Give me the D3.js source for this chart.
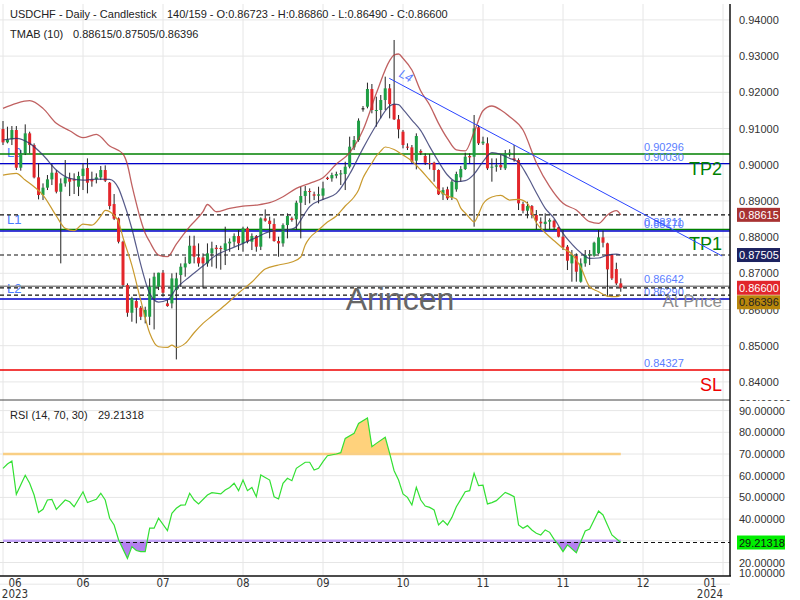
<!DOCTYPE html>
<html><head><meta charset="utf-8">
<script src="https://cdn.jsdelivr.net/npm/d3@7/dist/d3.min.js"></script>
<style>body{margin:0;background:#fff}svg{display:block;font-family:"Liberation Sans",Arial,sans-serif}</style>
</head><body><svg id="c" width="800" height="600"></svg>
<script>
// ---------- DATA ----------
const opens=[0.90985,0.90617,0.90700,0.90958,0.89917,0.90313,0.90866,0.90543,0.89650,0.89162,
0.89365,0.89595,0.89779,0.89254,0.89484,0.89622,0.89595,0.89392,0.89687,0.89908,
0.89595,0.89595,0.89650,0.89853,0.89503,0.88913,0.88517,0.87872,0.86675,0.85911,
0.86233,0.86049,0.85800,0.85800,0.86307,0.86629,0.87016,0.86169,0.86169,0.86537,
0.86952,0.87163,0.87274,0.87762,0.87439,0.87439,0.87274,0.87550,0.87707,0.87698,
0.87642,0.87827,0.87873,0.88029,0.87827,0.88241,0.87873,0.88029,0.87735,0.88517,
0.88453,0.88361,0.87891,0.87827,0.88333,0.88517,0.88490,0.88950,0.89135,0.89273,
0.89181,0.89144,0.89144,0.89641,0.89623,0.89696,0.89733,0.89742,0.89945,0.90479,
0.90682,0.91557,0.91603,0.92091,0.91483,0.91511,0.91787,0.92109,0.91676,0.91253,
0.90912,0.90498,0.90479,0.90111,0.90378,0.90240,0.90046,0.90056,0.89853,0.89181,
0.89319,0.89098,0.89319,0.89650,0.89881,0.90240,0.90221,0.91032,0.90590,0.90590,
0.89917,0.89945,0.89991,0.89899,0.90295,0.90175,0.90129,0.88914,0.88729,0.88858,
0.88610,0.88425,0.88361,0.88425,0.88453,0.88269,0.88011,0.87735,0.87274,0.87477,
0.86768,0.87274,0.87504,0.87486,0.87551,0.87993,0.87827,0.87504,0.87117,0.86723];
const highs=[0.91206,0.91050,0.91068,0.91068,0.90405,0.91114,0.90912,0.90589,0.90037,0.89484,
0.89715,0.90018,0.89853,0.89622,0.90129,0.89779,0.89761,0.89807,0.90037,0.90175,
0.89807,0.89761,0.89963,0.89982,0.89521,0.89190,0.88545,0.87900,0.86721,0.86353,
0.86307,0.86095,0.86077,0.86859,0.87016,0.87016,0.87090,0.86261,0.86998,0.87016,
0.87274,0.87458,0.88038,0.88038,0.87826,0.87550,0.87826,0.87873,0.87781,0.87760,
0.88287,0.87965,0.88103,0.88195,0.88287,0.88287,0.88103,0.88057,0.88545,0.88766,
0.88564,0.88517,0.88011,0.88379,0.88656,0.88564,0.89006,0.89392,0.89411,0.89346,
0.89255,0.89392,0.89531,0.89669,0.89779,0.89807,0.89853,0.90083,0.90774,0.90792,
0.91280,0.91621,0.92266,0.92229,0.91879,0.91925,0.92432,0.92229,0.93445,0.91373,
0.90958,0.90590,0.90544,0.90866,0.90424,0.90313,0.90295,0.90083,0.89871,0.89374,
0.89392,0.89577,0.89807,0.89963,0.90332,0.90313,0.91373,0.91096,0.90774,0.90755,
0.90175,0.90175,0.90267,0.90406,0.90424,0.90544,0.90175,0.88978,0.88978,0.88886,
0.88748,0.88545,0.88656,0.88518,0.88490,0.88287,0.88195,0.87781,0.87643,0.87551,
0.87412,0.87643,0.87643,0.87873,0.88195,0.88177,0.87845,0.87532,0.87293,0.86860];
const lows=[0.90543,0.90589,0.90543,0.89853,0.89835,0.90267,0.90313,0.89622,0.89042,0.89024,
0.89300,0.89438,0.89208,0.87274,0.89392,0.89134,0.89190,0.89134,0.89300,0.89208,
0.89392,0.89484,0.89576,0.89521,0.88766,0.88471,0.87826,0.86629,0.85800,0.85662,
0.85616,0.85708,0.85616,0.85570,0.85450,0.86537,0.86353,0.86077,0.86031,0.84621,
0.86629,0.86906,0.87255,0.87274,0.87182,0.86583,0.87182,0.87182,0.87136,0.87100,
0.87228,0.87596,0.87735,0.87642,0.87596,0.87827,0.87642,0.87596,0.87642,0.88425,
0.87965,0.87873,0.87458,0.87735,0.87965,0.88425,0.88195,0.87965,0.88886,0.88932,
0.89024,0.88932,0.89024,0.89577,0.89531,0.89623,0.89438,0.89300,0.89899,0.90405,
0.90636,0.91465,0.91557,0.91419,0.91050,0.91280,0.91511,0.91280,0.91234,0.90728,
0.90451,0.90405,0.90037,0.89871,0.90267,0.89991,0.89871,0.89531,0.89162,0.89024,
0.89024,0.89024,0.89254,0.89531,0.89853,0.90037,0.88287,0.90544,0.90544,0.89853,
0.89531,0.89807,0.89853,0.89853,0.90221,0.90083,0.88748,0.88656,0.88518,0.88518,
0.88214,0.88214,0.88195,0.88214,0.88195,0.87993,0.87643,0.87090,0.86768,0.86768,
0.86740,0.87182,0.87228,0.87458,0.87532,0.87716,0.86353,0.86814,0.86675,0.86490];
const closes=[0.90617,0.90700,0.90958,0.89917,0.90313,0.90866,0.90543,0.89650,0.89162,0.89365,
0.89595,0.89779,0.89254,0.89484,0.89650,0.89530,0.89558,0.89687,0.89890,0.89503,
0.89540,0.89650,0.89853,0.89558,0.88858,0.88508,0.87872,0.86675,0.85911,0.86307,
0.86049,0.85800,0.85985,0.86629,0.86906,0.87016,0.86463,0.86095,0.86859,0.86859,
0.87182,0.87274,0.87762,0.87458,0.87274,0.87274,0.87550,0.87689,0.87670,0.87680,
0.87827,0.87873,0.88029,0.87827,0.88241,0.87873,0.88029,0.87735,0.88517,0.88453,
0.88361,0.87891,0.87827,0.88333,0.88582,0.88471,0.88950,0.89135,0.89273,0.89245,
0.89144,0.89181,0.89346,0.89604,0.89715,0.89742,0.89761,0.89945,0.90498,0.90682,
0.91216,0.91557,0.92091,0.91511,0.91511,0.91787,0.92109,0.91676,0.91253,0.90976,
0.90544,0.90470,0.90083,0.90792,0.90332,0.90056,0.90037,0.89853,0.89181,0.89300,
0.89070,0.89531,0.89742,0.89881,0.90221,0.90203,0.91004,0.90590,0.90636,0.89899,
0.89945,0.89982,0.89927,0.90313,0.90332,0.90129,0.88932,0.88729,0.88858,0.88610,
0.88453,0.88379,0.88425,0.88471,0.88269,0.88011,0.87716,0.87348,0.87504,0.87044,
0.87274,0.87504,0.87532,0.87845,0.87993,0.87845,0.87108,0.86860,0.86721,0.86600];

// TMA bands (bar index / value readings)
const upperIdx=[0,3,6,9,12,15,18,21,24,27,28,29,30,31,32,33,35,37,39,42,45,46,48,51,54,57,60,63,66,69,72,75,78,81,84,87,88,89,90,92,94,96,98,100,102,104,106,108,110,112,114,117,120,123,126,129,132,134,136,138,139];
const upperVal=[0.91556,0.91695,0.91768,0.91556,0.91142,0.90939,0.90746,0.90838,0.90516,0.90295,0.90000,0.89438,0.88932,0.88471,0.88103,0.87872,0.87504,0.87458,0.87808,0.88287,0.88702,0.88900,0.88700,0.88794,0.88858,0.88886,0.88950,0.89116,0.89346,0.89485,0.89641,0.90019,0.90332,0.90958,0.91971,0.92874,0.93030,0.93058,0.92938,0.92616,0.92036,0.91650,0.91142,0.90720,0.90410,0.90380,0.90900,0.91492,0.91621,0.91511,0.91327,0.90958,0.90056,0.89392,0.88932,0.88748,0.88425,0.88379,0.88610,0.88729,0.88615];
const midIdx=[0,3,6,9,12,15,18,21,24,26,27,29,30,31,33,35,37,39,42,45,48,51,54,57,60,63,65,66,67,69,72,75,78,81,84,87,88,89,90,92,94,96,98,100,102,104,106,108,110,112,114,116,118,120,122,124,126,128,130,132,134,136,138,139];
const midVal=[0.90682,0.90728,0.90589,0.90267,0.89853,0.89622,0.89576,0.89604,0.89595,0.89346,0.89024,0.88230,0.87734,0.87240,0.86445,0.86205,0.86261,0.86583,0.86906,0.87200,0.87504,0.87670,0.87827,0.87992,0.88149,0.88195,0.88223,0.88287,0.88471,0.88840,0.89042,0.89208,0.89742,0.90451,0.91096,0.91621,0.91676,0.91658,0.91529,0.91234,0.90940,0.90498,0.90083,0.89715,0.89531,0.89558,0.89742,0.90083,0.90332,0.90286,0.90175,0.90065,0.89687,0.89227,0.88794,0.88518,0.88103,0.87808,0.87569,0.87413,0.87422,0.87504,0.87532,0.87505];
const lowIdx=[0,3,5,7,9,12,14,16,18,20,22,23,25,26,27,29,31,33,35,37,38,39,41,43,45,47,50,53,56,59,62,65,67,68,69,71,73,75,77,79,80,81,82,83,84,85,86,88,90,92,94,96,98,100,102,103,104,105,106,107,108,110,112,114,116,118,120,122,124,126,128,130,132,134,136,138,139];
const lowVal=[0.89714,0.89761,0.89576,0.89392,0.89162,0.88582,0.88241,0.88177,0.88361,0.88333,0.88580,0.88740,0.88600,0.88420,0.87990,0.87220,0.86250,0.85350,0.84971,0.84953,0.85018,0.84953,0.85064,0.85358,0.85616,0.85820,0.86124,0.86456,0.86760,0.87119,0.87230,0.87312,0.87450,0.87782,0.87975,0.88196,0.88417,0.88583,0.88859,0.89108,0.89301,0.89633,0.89854,0.90047,0.90240,0.90378,0.90489,0.90420,0.90268,0.90102,0.89854,0.89577,0.89301,0.89135,0.89050,0.88800,0.88666,0.88528,0.88417,0.88638,0.88914,0.89108,0.89150,0.89024,0.89042,0.88932,0.88398,0.88121,0.87900,0.87689,0.87532,0.87164,0.86629,0.86491,0.86371,0.86353,0.86396];

// RSI (14) readings
const rsiIdx=[0,1,2,3,5,6,7,8,9,10,11,12,14,15,16,18,19,21,22,23,24,25,26,28,29,30,31,32,33,34,35,37,38,39,40,41,42,43,44,46,47,49,50,51,52,53,54,55,56,57,58,60,61,62,63,64,65,66,68,69,70,71,72,73,75,76,77,79,80,82,83,84,86,87,88,89,90,91,92,93,94,95,96,97,98,99,100,101,102,103,104,105,106,107,108,109,110,111,113,114,115,116,117,118,119,120,121,122,123,124,125,126,127,129,130,131,132,134,135,136,137,139];
const rsiVal=[63.4,65.4,66.8,51.4,60.2,56.5,51.1,43.0,44.5,48.8,49.1,44.5,48.8,48.0,45.7,52.6,47.6,49.1,51.9,48.8,40.4,37.3,30.5,21.9,27.3,25.5,25.0,25.0,35.8,35.8,40.4,34.7,42.7,45.0,46.4,46.5,51.9,48.8,47.0,51.1,52.2,51.6,53.4,54.6,56.5,53.1,58.0,53.1,54.6,50.3,60.3,58.0,50.3,49.3,56.5,58.8,57.7,63.4,66.2,66.2,62.6,63.4,66.5,69.2,70.0,70.6,77.2,79.5,84.1,86.6,73.4,74.9,77.7,70.3,62.3,58.0,51.6,50.0,46.5,54.6,48.8,46.0,45.4,44.2,37.3,39.3,37.3,40.8,45.7,49.1,52.6,53.1,61.1,55.4,55.6,47.0,47.6,48.5,52.3,51.4,50.3,37.3,35.8,37.0,35.0,33.5,32.7,35.0,33.9,30.7,28.1,25.0,28.1,24.5,29.6,34.5,35.4,43.7,41.9,37.3,32.7,29.21318];
const rsiOB=70, rsiOS=30;

// Horizontal levels
const levelValues=[0.90296,0.90030,0.88211,0.88170,0.86642,0.86290,0.84327];
const levelKinds=["tp","line","tp","line","price","line","sl"];
const sideLabels=["TP2","TP1","At Price","SL"];
const sideLabelValues=[0.90296,0.88211,0.86642,0.84327];
const trendIdx=[86.9,161.8];
const trendVal=[0.92387,0.87478];

// Axes
const xTickIdx=[0,18,36,54,72,90,108,126,144,162];
const xTickMonth=["06","06","07","08","09","10","11","11","12","01"];
const xTickYear=["2023","","","","","","","","","2024"];
const priceTicks=[0.84,0.85,0.86,0.87,0.88,0.89,0.90,0.91,0.92,0.93,0.94];
const rsiTicks=[10,20,30,40,50,60,70,80,90,100];

// ---------- CHART ----------
const svg=d3.select("#c");
const plotR=730, mainT=4, mainB=400, rsiT=400, rsiB=576;
const x=d3.scaleLinear().domain([0,162]).range([3,723]);
const y=d3.scaleLinear().domain([0.84,0.94]).range([381.9,19.9]);
const ry=d3.scaleLinear().domain([0,100]).range([605.9,388.9]);
const fmt5=d3.format(".5f");

const defs=svg.append("defs");
function clip(id,x0,y0,w,h){defs.append("clipPath").attr("id",id).append("rect").attr("x",x0).attr("y",y0).attr("width",w).attr("height",h);}
clip("cm",0,mainT,plotR,mainB-mainT);
clip("cr",0,rsiT,plotR,rsiB-rsiT);
clip("cob",0,rsiT,plotR,ry(rsiOB)-rsiT);
clip("cos",0,ry(rsiOS),plotR,rsiB-ry(rsiOS));
clip("cax",plotR,rsiT,70,rsiB-rsiT+2);

// grid
const grid=svg.append("g").attr("stroke","#e6e6e6").attr("stroke-width",1);
grid.selectAll(".vg").data(xTickIdx).join("line").attr("x1",d=>x(d)).attr("x2",d=>x(d)).attr("y1",mainT).attr("y2",rsiB);
grid.selectAll(".hg").data(priceTicks).join("line").attr("clip-path","url(#cm)").attr("x1",0).attr("x2",plotR).attr("y1",d=>y(d)).attr("y2",d=>y(d));
grid.selectAll(".rg").data(rsiTicks.filter(t=>t<100)).join("line").attr("x1",0).attr("x2",plotR).attr("y1",d=>ry(d)).attr("y2",d=>ry(d));

// header
const lastU=upperVal[upperVal.length-1], lastM=midVal[midVal.length-1], lastL=lowVal[lowVal.length-1], lastC=closes[closes.length-1];
const nB=opens.length-1;
svg.append("text").attr("x",10).attr("y",18).attr("font-size",11).attr("fill","#222").text("USDCHF - Daily - Candlestick");
svg.append("text").attr("x",167).attr("y",18).attr("font-size",11).attr("fill","#222")
  .text(`${opens.length}/159 - O:${fmt5(opens[nB])} - H:${fmt5(highs[nB])} - L:${fmt5(lows[nB])} - C:${fmt5(closes[nB])}`);
svg.append("text").attr("x",10).attr("y",38).attr("font-size",11).attr("fill","#222").text("TMAB (10)");
svg.append("text").attr("x",73).attr("y",38).attr("font-size",11).attr("fill","#222").text(`${fmt5(lastU)}/${fmt5(lastM)}/${fmt5(lastL)}`);

const main=svg.append("g").attr("clip-path","url(#cm)");

// L labels
const lblBlue="#4a7bff";
main.append("text").attr("x",7).attr("y",y(levelValues[0])+3).attr("font-size",13).attr("fill",lblBlue).text("L0");
main.append("text").attr("x",7).attr("y",y(levelValues[2])-5).attr("font-size",13).attr("fill",lblBlue).text("L1");
main.append("text").attr("x",7).attr("y",y(levelValues[4])+7).attr("font-size",13).attr("fill",lblBlue).text("L2");

// level lines
const kindColor={tp:"#008000",line:"#0000cc",price:"#8a8a8a",sl:"#ee0000"};
main.selectAll(".lv").data(levelValues).join("line").attr("x1",0).attr("x2",plotR)
  .attr("y1",d=>y(d)).attr("y2",d=>y(d)).attr("stroke",(d,i)=>kindColor[levelKinds[i]]).attr("stroke-width",1.4);
main.selectAll(".lvt").data(levelValues).join("text").attr("x",644).attr("y",d=>y(d)-3)
  .attr("font-size",11).attr("fill","#5a7dff").text(d=>fmt5(d));
// dashed current-value lines
const dashVals=[lastU,lastM,lastC,lastL];
main.selectAll(".dl").data(dashVals).join("line").attr("x1",0).attr("x2",plotR)
  .attr("y1",d=>y(d)).attr("y2",d=>y(d)).attr("stroke","#111").attr("stroke-width",1.2).attr("stroke-dasharray","4,3");

// side labels
const sideColor=["#008000","#008000","#8c8c8c","#ee0000"];
main.selectAll(".sl").data(sideLabels).join("text").attr("x",722).attr("text-anchor","end")
  .attr("y",(d,i)=>y(sideLabelValues[i])+21).attr("font-size",(d,i)=>i==2?17:18)
  .attr("fill",(d,i)=>sideColor[i]).text(d=>d);

// watermark
main.append("text").attr("x",400).attr("y",310).attr("text-anchor","middle").attr("font-size",32).attr("fill","#666").text("Arincen");

// candles
const bars=d3.range(opens.length);
const cg=main.append("g");
cg.selectAll(".wk").data(bars).join("line").attr("x1",i=>x(i)).attr("x2",i=>x(i))
  .attr("y1",i=>y(highs[i])).attr("y2",i=>y(lows[i])).attr("stroke","#222").attr("stroke-width",1);
cg.selectAll(".bd").data(bars).join("rect").attr("x",i=>x(i)-1.5).attr("width",3)
  .attr("y",i=>y(Math.max(opens[i],closes[i])))
  .attr("height",i=>Math.max(1,Math.abs(y(opens[i])-y(closes[i]))))
  .attr("fill",i=>closes[i]>opens[i]?"#1f9e45":(closes[i]<opens[i]?"#e3262b":"#111"));

// bands
const bandLine=d3.line().x(d=>x(d[0])).y(d=>y(d[1])).curve(d3.curveMonotoneX);
main.append("path").attr("d",bandLine(d3.zip(upperIdx,upperVal))).attr("fill","none").attr("stroke","#b03a3a").attr("stroke-opacity",0.8).attr("stroke-width",1.3);
main.append("path").attr("d",bandLine(d3.zip(midIdx,midVal))).attr("fill","none").attr("stroke","#2c316c").attr("stroke-opacity",0.8).attr("stroke-width",1.2);
main.append("path").attr("d",bandLine(d3.zip(lowIdx,lowVal))).attr("fill","none").attr("stroke","#c99a2e").attr("stroke-width",1.2);

// trendline
main.append("line").attr("x1",x(trendIdx[0])).attr("y1",y(trendVal[0])).attr("x2",x(trendIdx[1])).attr("y2",y(trendVal[1]))
  .attr("stroke","#2a44ff").attr("stroke-width",1);
const ang=Math.atan2(y(trendVal[1])-y(trendVal[0]),x(trendIdx[1])-x(trendIdx[0]))*180/Math.PI;
main.append("text").attr("transform",`translate(${x(trendIdx[0])+9},${y(trendVal[0])-2}) rotate(${ang})`)
  .attr("font-size",12).attr("font-style","italic").attr("fill","#5a7dff").text("L4");

// panel borders
svg.append("line").attr("x1",0).attr("x2",plotR).attr("y1",rsiT).attr("y2",rsiT).attr("stroke","#444").attr("stroke-width",1);
svg.append("line").attr("x1",0).attr("x2",plotR+1).attr("y1",rsiB).attr("y2",rsiB).attr("stroke","#111").attr("stroke-width",1.5);
svg.append("line").attr("x1",plotR).attr("x2",plotR).attr("y1",mainT).attr("y2",rsiB).attr("stroke","#111").attr("stroke-width",1.5);

// right price axis
svg.selectAll(".pt").data(priceTicks).join("text").attr("x",739).attr("y",d=>y(d)+4).attr("font-size",11).attr("fill","#333").text(d=>fmt5(d));
const boxes=[{v:lastU,bg:"#a83232",fg:"#fff"},{v:lastM,bg:"#1c2260",fg:"#fff"},{v:lastC,bg:"#e1262b",fg:"#fff"},{v:lastL,bg:"#b8860b",fg:"#222"}]
  .map(b=>({...b,cy:y(b.v)})).sort((a,b)=>a.cy-b.cy);
for(let k=1;k<boxes.length;k++){ if(boxes[k].cy-boxes[k-1].cy<14.5) boxes[k].cy=boxes[k-1].cy+14.5; }
const bx=svg.selectAll(".bx").data(boxes).join("g");
bx.append("rect").attr("x",737).attr("width",43).attr("y",d=>d.cy-7).attr("height",14).attr("fill",d=>d.bg);
bx.append("text").attr("x",739).attr("y",d=>d.cy+4).attr("font-size",11).attr("fill",d=>d.fg).text(d=>fmt5(d.v));

// ---------- RSI ----------
const rsi=d3.zip(rsiIdx,rsiVal);
const rv=rsiVal[rsiVal.length-1];
svg.append("text").attr("x",10).attr("y",419).attr("font-size",11).attr("fill","#222").text("RSI (14, 70, 30)");
svg.append("text").attr("x",98).attr("y",419).attr("font-size",11).attr("fill","#222").text(d3.format(".5f")(rv));
const rg=svg.append("g").attr("clip-path","url(#cr)");
const firstI=rsiIdx[0], lastI=rsiIdx[rsiIdx.length-1];
rg.append("path").attr("clip-path","url(#cob)").attr("d",d3.area().x(d=>x(d[0])).y0(ry(rsiOB)).y1(d=>ry(d[1]))(rsi)).attr("fill","#ffd27c");
rg.append("path").attr("clip-path","url(#cos)").attr("d",d3.area().x(d=>x(d[0])).y0(ry(rsiOS)).y1(d=>ry(d[1]))(rsi)).attr("fill","#b47ff0");
rg.append("line").attr("x1",x(firstI)).attr("x2",x(lastI)).attr("y1",ry(rsiOB)).attr("y2",ry(rsiOB)).attr("stroke","#f9cf85").attr("stroke-width",2.5);
rg.append("line").attr("x1",x(firstI)).attr("x2",x(lastI)).attr("y1",ry(rsiOS)).attr("y2",ry(rsiOS)).attr("stroke","#c3a4f6").attr("stroke-width",2.5);
rg.append("line").attr("x1",0).attr("x2",plotR).attr("y1",ry(rv)).attr("y2",ry(rv)).attr("stroke","#111").attr("stroke-width",1.2).attr("stroke-dasharray","4,3");
rg.append("path").attr("d",d3.line().x(d=>x(d[0])).y(d=>ry(d[1]))(rsi)).attr("fill","none").attr("stroke","#33e033").attr("stroke-width",1.2);

// RSI axis labels (the 30 label sits under the value box in the reference)
const ax=svg.append("g").attr("clip-path","url(#cax)");
ax.selectAll(".rt").data(rsiTicks.filter(t=>Math.abs(ry(t)-ry(rv))>10)).join("text").attr("x",739)
  .attr("y",d=>Math.max(397,Math.min(573,ry(d)))+4).attr("font-size",11).attr("fill","#333").text(d=>d3.format(".5f")(d));
svg.append("rect").attr("x",737).attr("y",ry(rv)-7).attr("width",48).attr("height",14).attr("fill","#00ee00");
svg.append("text").attr("x",739).attr("y",ry(rv)+4).attr("font-size",11).attr("fill","#111").text(d3.format(".5f")(rv));

// x axis labels
const xl=svg.selectAll(".xl").data(xTickIdx).join("g").attr("transform",d=>`translate(${Math.max(15,Math.min(710,x(d)))},0)`);
xl.append("text").attr("y",587).attr("text-anchor","middle").attr("font-size",11.5).attr("fill","#333").attr("font-family","'Liberation Sans Narrow','DejaVu Sans Condensed',sans-serif").text((d,i)=>xTickMonth[i]);
xl.append("text").attr("y",598).attr("text-anchor","middle").attr("font-size",11.5).attr("fill","#333").attr("font-family","'Liberation Sans Narrow','DejaVu Sans Condensed',sans-serif").text((d,i)=>xTickYear[i]);
</script></body></html>
